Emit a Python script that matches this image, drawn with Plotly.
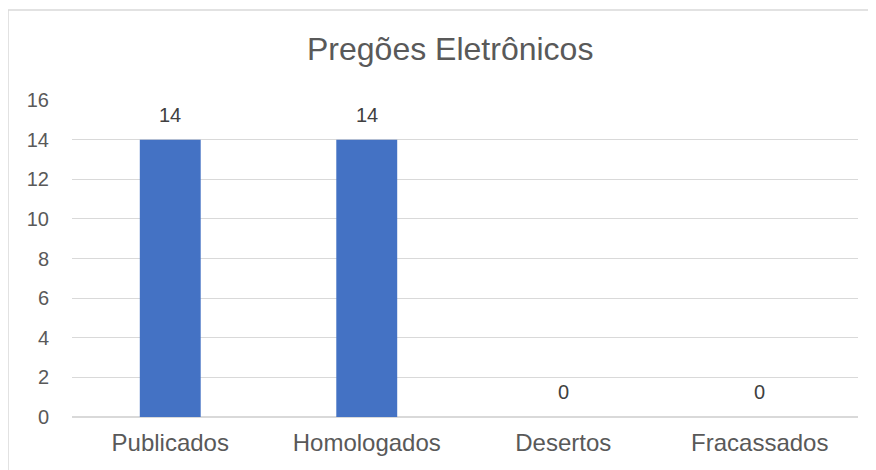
import plotly.graph_objects as go

categories = ["Publicados", "Homologados", "Desertos", "Fracassados"]
values = [14, 14, 0, 0]
y_ticks = [0, 2, 4, 6, 8, 10, 12, 14, 16]
title_text = "Pregões Eletrônicos"

# page has an 8px body margin; compensate so plot lands where the reference has it
OFF = 8
W, H = 876 - OFF, 470 - OFF
L, R, T, B = 72 - OFF, 18, 100 - OFF, 53
pw = W - L - R
ph = H - T - B

fig = go.Figure()
fig.add_trace(go.Bar(
    x=categories, y=values,
    marker=dict(color="#4472C4", line=dict(width=0)),
    hoverinfo="x+y",
))

def px_x(x):
    return (x - OFF - L) / pw

def px_y(y):
    return 1 - (y - OFF - T) / ph

annotations = [dict(text=title_text, xref="paper", yref="paper", x=px_x(450), y=px_y(49),
                    xanchor="center", yanchor="middle", showarrow=False,
                    font=dict(family="Liberation Sans, Arial", size=32, color="#595959"))]
for c, v in zip(categories, values):
    annotations.append(dict(text=str(v), x=c, y=v, xref="x", yref="y", xanchor="center",
                            yanchor="bottom", yshift=12, showarrow=False,
                            font=dict(family="Liberation Sans, Arial", size=20, color="#404040")))

border = "#D9D9D9"
shapes = [
    dict(type="line", xref="paper", yref="paper", x0=px_x(8), x1=px_x(900), y0=px_y(10), y1=px_y(10),
         line=dict(color=border, width=1.5)),
    dict(type="line", xref="paper", yref="paper", x0=px_x(8), x1=px_x(8), y0=px_y(10), y1=px_y(500),
         line=dict(color=border, width=1.5)),
]

fig.update_layout(
    width=W, height=H,
    margin=dict(l=L, r=R, t=T, b=B),
    paper_bgcolor="white", plot_bgcolor="white",
    bargap=0.69,
    showlegend=False,
    shapes=shapes,
    annotations=annotations,
    font=dict(family="Liberation Sans, Arial", color="#595959"),
)
fig.update_yaxes(range=[0, 16], tickvals=y_ticks, showgrid=True, gridcolor="#D9D9D9", gridwidth=1,
                 zeroline=True, zerolinecolor="#D9D9D9", zerolinewidth=1.5,
                 tickfont=dict(size=20, color="#595959"), ticklabelstandoff=22, showline=False)
fig.update_xaxes(showgrid=False, tickfont=dict(size=24, color="#595959"), ticklabelstandoff=9,
                 showline=False)

fig.write_html("out.html")
